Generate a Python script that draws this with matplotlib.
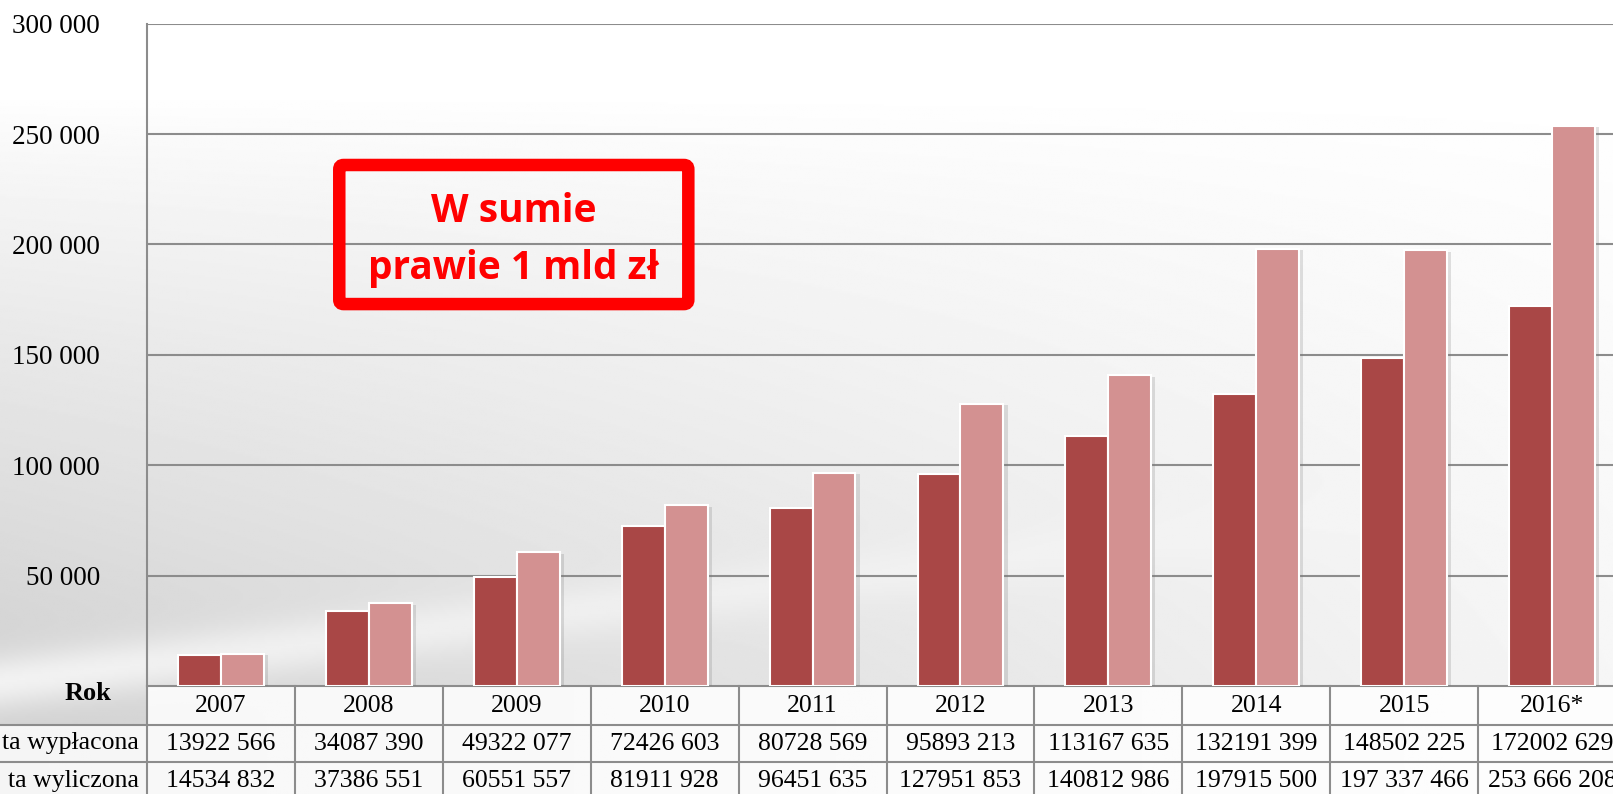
import numpy as np
import matplotlib.pyplot as plt
from matplotlib.patches import FancyBboxPatch, Rectangle
from matplotlib import patheffects as pe

years = ['2007', '2008', '2009', '2010', '2011', '2012', '2013', '2014', '2015', '2016*']
wyplacona = [13922566, 34087390, 49322077, 72426603, 80728569,
             95893213, 113167635, 132191399, 148502225, 172002629]
wyliczona = [14534832, 37386551, 60551557, 81911928, 96451635,
             127951853, 140812986, 197915500, 197337466, 253666208]
wyplacona_txt = ['13922 566', '34087 390', '49322 077', '72426 603', '80728 569',
                 '95893 213', '113167 635', '132191 399', '148502 225', '172002 629']
wyliczona_txt = ['14534 832', '37386 551', '60551 557', '81911 928', '96451 635',
                 '127951 853', '140812 986', '197915 500', '197 337 466', '253 666 208']
row_labels = ['ta wypłacona', 'ta wyliczona']
yticks = [50000, 100000, 150000, 200000, 250000, 300000]

W, H = 1613, 794
fig = plt.figure(figsize=(W / 100, H / 100), dpi=100)

# background gradient (slide decoration)
bg = fig.add_axes([0, 0, 1, 1], zorder=-5)
yy, xx = np.mgrid[0:1:400j, 0:1:800j]
shade = np.clip((yy - 0.12) / 0.75, 0, 1) ** 0.8 * (1 - 0.8 * xx)
band = np.exp(-((yy - (0.86 - 0.25 * xx)) / 0.035) ** 2) * (1 - xx) * 0.7
gray = 1 - 0.18 * shade * (1 - band)
bg.imshow(gray, cmap='gray', vmin=0, vmax=1, aspect='auto', extent=[0, 1, 0, 1])
bg.set_axis_off()

left = 147 / W
bottom = 1 - 686 / H
top = 1 - 23.7 / H
colw = 147.9 / W
ax = fig.add_axes([left, bottom, colw * 10, top - bottom])
ax.set_facecolor('none')

x = np.arange(len(years))
dark = [v / 1000 for v in wyplacona]
light = [v / 1000 for v in wyliczona]
shadow = [pe.SimplePatchShadow(offset=(3, -1), alpha=0.22, shadow_rgbFace='#777777'), pe.Normal()]
b1 = ax.bar(x - 0.145, dark, width=0.29, color='#A94746', edgecolor='white', linewidth=1.5, zorder=3)
b2 = ax.bar(x + 0.145, light, width=0.29, color='#D39191', edgecolor='white', linewidth=1.5, zorder=3)
for b in list(b1) + list(b2):
    b.set_path_effects(shadow)

ax.set_xlim(-0.5, 9.5)
ax.set_ylim(0, 300000)
ax.set_yticks(yticks)
ax.set_yticklabels([f'{v:,}'.replace(',', ' ') for v in yticks],
                   fontfamily='Liberation Serif', fontsize=19.5)
ax.tick_params(axis='y', length=0, pad=34)
ax.set_xticks([])
ax.yaxis.grid(True, color='#8c8c8c', linewidth=1.5)
ax.set_axisbelow(True)
for s in ['top', 'right', 'bottom']:
    ax.spines[s].set_visible(False)
ax.spines['left'].set_color('#8c8c8c')
ax.spines['left'].set_linewidth(1.5)

# table under the chart
ph = 686 - 23.7
rows = [(686, 725), (725, 762), (762, 800)]
def ay(py):
    return (686 - py) / ph

xt = ax.get_xaxis_transform()
ax.add_patch(Rectangle((-0.5, ay(800)), 10, ay(686) - ay(800), transform=xt,
                       facecolor='white', alpha=0.85, edgecolor='none', clip_on=False, zorder=0))
ax.add_patch(Rectangle((-0.5 - 147 / 147.9, ay(800)), 147 / 147.9, ay(725) - ay(800), transform=xt,
                       facecolor='white', alpha=0.8, edgecolor='none', clip_on=False, zorder=0))

lc = '#8c8c8c'
ax.plot([-0.5, 9.5], [ay(686)] * 2, transform=xt, color=lc, lw=1.5, clip_on=False)
for py in (725, 762):
    ax.plot([-0.5 - 147 / 147.9, 9.5], [ay(py)] * 2, transform=xt,
            color=lc, lw=1.5, clip_on=False)
for i in range(11):
    ax.plot([i - 0.5] * 2, [ay(686), ay(800)], transform=xt,
            color=lc, lw=1.5, clip_on=False)

for i in range(len(years)):
    for (r0, r1), txt in zip(rows, [years[i], wyplacona_txt[i], wyliczona_txt[i]]):
        ax.text(i, ay((r0 + r1) / 2), txt, transform=xt,
                ha='center', va='center', fontfamily='Liberation Serif', fontsize=18.5, clip_on=False)

fig.text(88 / W, 1 - 694 / H, 'Rok', ha='center', va='center',
         fontfamily='Liberation Serif', fontsize=19, fontweight='bold')
for (r0, r1), lab in zip(rows[1:], row_labels):
    fig.text(139 / W, 1 - (r0 + r1) / 2 / H, lab, ha='right', va='center',
             fontfamily='Liberation Serif', fontsize=18.5)

# annotation box
box = FancyBboxPatch((0.80, 173000), 2.36, 63000, boxstyle='round,pad=0,rounding_size=0.03',
                     facecolor='none', edgecolor='#FF0000', linewidth=9, zorder=4,
                     mutation_aspect=300000 / 10 * 1479 / 662)
ax.add_patch(box)
ax.text(1.98, 214800, 'W sumie', ha='center', va='center', color='#FF0000',
        fontfamily='Open Sans', fontweight='bold', fontsize=28, zorder=5)
ax.text(1.98, 189000, 'prawie 1 mld zł', ha='center', va='center', color='#FF0000',
        fontfamily='Open Sans', fontweight='bold', fontsize=28, zorder=5)

fig.savefig('out.png', dpi=100)
